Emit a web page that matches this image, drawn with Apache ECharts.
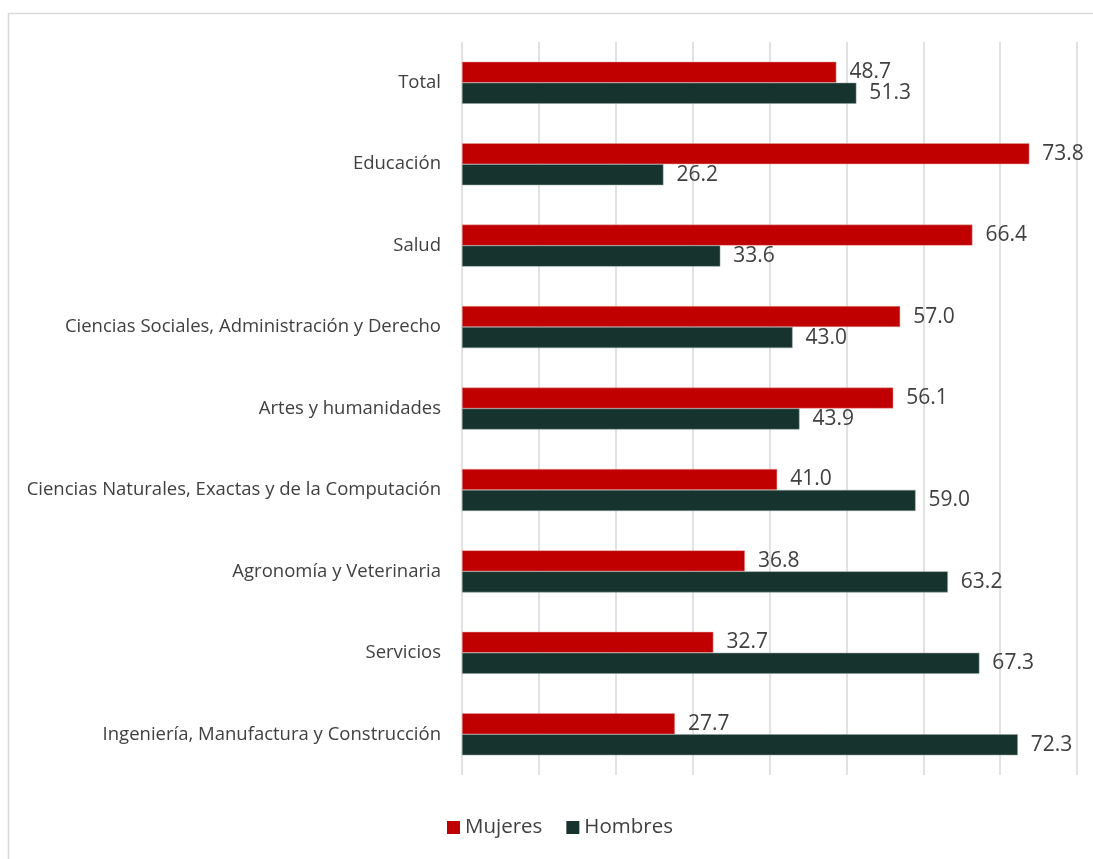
<!DOCTYPE html>
<html><head><meta charset="utf-8">
<script src="https://cdn.jsdelivr.net/npm/echarts@6/dist/echarts.min.js"></script>
<style>html,body{margin:0;padding:0;background:#fff}#c{width:1093px;height:859px}</style>
</head><body><div id="c"></div>
<script>
const categories = ["Total","Educación","Salud","Ciencias Sociales, Administración y Derecho","Artes y humanidades","Ciencias Naturales, Exactas y de la Computación","Agronomía y Veterinaria","Servicios","Ingeniería, Manufactura y Construcción"];
const mujeres = [48.7,73.8,66.4,57.0,56.1,41.0,36.8,32.7,27.7];
const hombres = [51.3,26.2,33.6,43.0,43.9,59.0,63.2,67.3,72.3];
const seriesNames = ["Mujeres","Hombres"];
const chart = echarts.init(document.getElementById('c'), null, {renderer:'canvas'});
const FONT = "Open Sans";
const lbl = {show:true, position:'right', distance:13, color:'#404040', fontSize:21, fontFamily:FONT, formatter: p => p.value.toFixed(1)};
chart.setOption({
  animation:false,
  textStyle:{fontFamily:FONT},
  graphic:[{type:'rect', shape:{x:8.5,y:13.5,width:1200,height:1000}, style:{fill:null, stroke:'#d9d9d9', lineWidth:1.5}, silent:true}],
  grid:{left:462, right:16, top:42, bottom:84, containLabel:false},
  legend:{data:seriesNames, bottom:16, left:442, itemWidth:13, itemHeight:13, itemGap:24, icon:'rect',
    itemStyle:{borderWidth:0},
    textStyle:{fontSize:20.5, color:'#404040', fontFamily:FONT}},
  xAxis:{type:'value', min:0, max:80, interval:10, axisLabel:{show:false}, axisLine:{show:false}, axisTick:{show:false},
    splitLine:{show:true, lineStyle:{color:'#d9d9d9', width:1.5}}},
  yAxis:{type:'category', data:categories, inverse:true, axisLine:{show:false}, axisTick:{show:false},
    axisLabel:{fontSize:18.5, color:'#404040', margin:21, fontFamily:FONT}},
  series:[
    {name:seriesNames[0], type:'bar', data:mujeres, barWidth:21, barGap:'0%', itemStyle:{color:'#C00000', borderColor:'#e8a0a0', borderWidth:0.5}, label:lbl},
    {name:seriesNames[1], type:'bar', data:hombres, barWidth:21, barGap:'0%', itemStyle:{color:'#17332D', borderColor:'#8fa39e', borderWidth:0.5}, label:lbl}
  ]
});
</script></body></html>
